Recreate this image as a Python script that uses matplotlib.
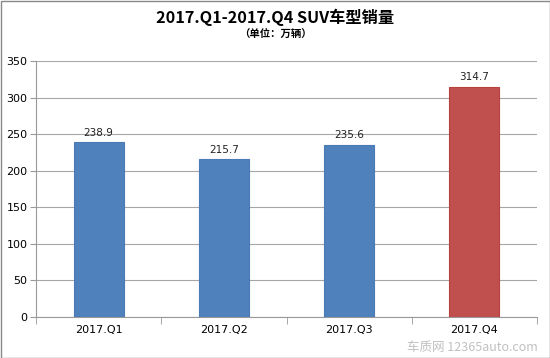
import matplotlib
matplotlib.use("Agg")
import matplotlib.pyplot as plt
from matplotlib.patches import Rectangle

plt.rcParams['font.family'] = ['Noto Sans CJK SC', 'DejaVu Sans']

categories = ["2017.Q1", "2017.Q2", "2017.Q3", "2017.Q4"]
values = [238.9, 215.7, 235.6, 314.7]
colors = ["#4F81BD", "#4F81BD", "#4F81BD", "#C0504D"]
edges = ["#4A7AB5", "#4A7AB5", "#4A7AB5", "#B8403D"]
yticks = [0, 50, 100, 150, 200, 250, 300, 350]

W, H = 550, 358
fig = plt.figure(figsize=(5.5, 3.58), dpi=100)
ax = fig.add_axes([36 / W, 1 - 317 / H, (537 - 36) / W, (317 - 61) / H])

x = range(len(categories))
ax.bar(x, values, width=0.4, color=colors, edgecolor=edges, linewidth=0.8, zorder=3)
for i, v in enumerate(values):
    ax.text(i, v + 6, f"{v}", ha="center", va="bottom", fontsize=7.5, color="#222222",
            family=['DejaVu Sans'])

ax.set_xlim(-0.5, len(categories) - 0.5)
ax.set_ylim(0, 350)
ax.set_yticks(yticks)
ax.set_yticklabels([str(t) for t in yticks], fontsize=8, family=['DejaVu Sans'])
ax.set_xticks(list(x))
ax.set_xticklabels(categories, fontsize=8, family=['DejaVu Sans'])
ax.tick_params(axis='x', length=0, pad=6)
ax.tick_params(axis='y', length=4, color="#999999", pad=2)
ax.set_xticks([-0.5, 0.5, 1.5, 2.5, 3.5], minor=True)
ax.tick_params(axis='x', which='minor', length=5, color="#999999")
ax.grid(axis='y', color="#A6A6A6", linewidth=0.8, zorder=0)
for s in ["top", "right"]:
    ax.spines[s].set_visible(False)
ax.spines["left"].set_color("#999999")
ax.spines["bottom"].set_color("#999999")

fig.text(0.5, 1 - 17 / H, "2017.Q1-2017.Q4 SUV车型销量", ha="center", va="center",
         fontsize=11.7, fontweight="bold")
fig.text(0.5, 1 - 35 / H, "（单位：万辆）", ha="center", va="center", fontsize=7.5, fontweight="bold")

fig.text(1 - 12 / W, 1 - 347 / H, "车质网 12365auto.com", ha="right", va="center",
         fontsize=9, color="#b0b0b0", alpha=0.8)

fig.patches.append(Rectangle((0.5 / W, 0.5 / H), 1 - 1 / W, 1 - 1 / H, transform=fig.transFigure,
                             fill=False, edgecolor="#888888", linewidth=1))

fig.savefig("out.png", dpi=100)
